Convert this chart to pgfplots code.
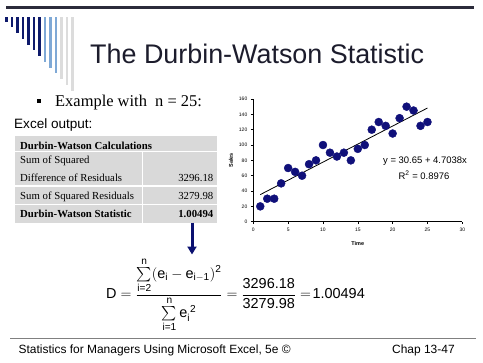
\documentclass[border=0pt]{standalone}
\usepackage{fontspec}
\setmainfont{Liberation Sans}
\newfontfamily\timesf{Liberation Serif}
\usepackage{amsmath}
\usepackage{pgfplots}
\pgfplotsset{compat=1.18}
\usetikzlibrary{arrows.meta}
\definecolor{navy}{HTML}{10107A}
\definecolor{topbar}{HTML}{2B2B3B}
\definecolor{barA}{HTML}{0E1A6B}
\definecolor{barB}{HTML}{7FA9D6}
\definecolor{barC}{HTML}{DCDCDC}
\definecolor{titlecol}{HTML}{1C1C2C}
\definecolor{tablebg}{HTML}{D9D9D9}
\definecolor{arrowcol}{HTML}{0A1070}
\definecolor{footline}{HTML}{808080}
\begin{document}
\begin{tikzpicture}[x=1bp,y=-1bp]
\fill[white] (0,0) rectangle (483,362);
% top bar
\fill[topbar] (6,6) rectangle (474,9.3);
% decorative vertical bars
\foreach \k/\c in {0/barA,1/barA,2/barA,3/barA,4/barA,5/barA,6/barA,7/barB,8/barB,9/barB,10/barC,11/barC,12/barC}{
  \fill[\c] ({6.7+5.5*\k-1.25},17.3) rectangle ({6.7+5.5*\k+1.25},{21.7+5.75*\k});
}
% title
\node[anchor=base west, inner sep=0, text=titlecol, font=\fontsize{27}{30}\selectfont] at (90,63.5) {The Durbin-Watson Statistic};
% bullet
\fill[black] (37.3,98.5) rectangle (41.3,102.5);
\node[anchor=base west, inner sep=0, font=\timesf\fontsize{16.5}{19}\selectfont] at (55,106) {Example with\ \ n = 25:};
% Excel output
\node[anchor=base west, inner sep=0, font=\fontsize{13.6}{16}\selectfont] at (14,128) {Excel output:};
% table
\fill[tablebg] (15,136) rectangle (217,222.5);
\draw[white, line width=1.2bp] (15,151.7) -- (217,151.7);
\draw[white, line width=1.2bp] (15,186) -- (217,186);
\draw[white, line width=1.2bp] (15,204.3) -- (217,204.3);
\draw[white, line width=1.2bp] (142.7,151.7) -- (142.7,222.5);
\begin{scope}[every node/.style={inner sep=0, font=\timesf\fontsize{10.8}{13}\selectfont}]
\node[anchor=base west] at (20,149.5) {\bfseries Durbin-Watson Calculations};
\node[anchor=base west] at (20,163.5) {Sum of Squared};
\node[anchor=base west] at (20,181.5) {Difference of Residuals};
\node[anchor=base east] at (213.5,181.5) {3296.18};
\node[anchor=base west] at (20,199.5) {Sum of Squared Residuals};
\node[anchor=base east] at (213.5,199.5) {3279.98};
\node[anchor=base west] at (20,217.5) {\bfseries Durbin-Watson Statistic};
\node[anchor=base east] at (213.5,217.5) {\bfseries 1.00494};
\end{scope}
% arrow
\draw[arrowcol, line width=3bp, -{Triangle[width=9bp,length=8bp]}] (192,222.5) -- (192,254.5);
% formula
\node[anchor=base west, inner sep=0, font=\fontsize{14.5}{17}\selectfont] at (106,298.5)
{$\text{D} = \dfrac{\textstyle\sum\limits_{\text{i=2}}^{\text{n}}(\text{e}_{\text{i}} - \text{e}_{\text{i}-\text{1}})^{\text{2}}}{\textstyle\sum\limits_{\text{i=1}}^{\text{n}}\text{e}_{\text{i}}^{\;\text{2}}} = \dfrac{\text{3296.18}}{\text{3279.98}} =\! \text{1.00494}$};
% footer
\draw[footline, line width=0.8bp] (10,338.3) -- (476,338.3);
\node[anchor=base west, inner sep=0, font=\fontsize{12}{14}\selectfont] at (18.5,353) {Statistics for Managers Using Microsoft Excel, 5e \textcopyright};
\node[anchor=base west, inner sep=0, font=\fontsize{12}{14}\selectfont] at (392,353) {Chap 13-47};
% chart
\begin{axis}[
  at={(253.3bp,-221.7bp)}, anchor=south west,
  scale only axis, width=209bp, height=122.7bp,
  xmin=0, xmax=30, ymin=0, ymax=160,
  axis lines*=left,
  xtick={0,5,...,30}, ytick={0,20,...,160},
  tick align=outside, major tick length=2.5bp,
  tick style={black, line width=0.5bp},
  axis line style={black, line width=0.8bp},
  tick label style={font=\fontsize{5}{5}\selectfont},
  /pgf/number format/assume math mode=true,
  xlabel={Time}, ylabel={Sales},
  label style={font=\fontsize{5.5}{6}\selectfont\bfseries},
  xlabel style={at={(axis description cs:0.5,-0.18)}, anchor=center},
  ylabel style={at={(axis description cs:-0.107,0.5)}, anchor=center},
  clip=false,
]
\addplot[only marks, mark=*, mark size=4bp, navy] coordinates {
(1,20) (2,30) (3,30) (4,50) (5,70) (6,65) (7,60) (8,75) (9,80) (10,100)
(11,90) (12,85) (13,90) (14,80) (15,95) (16,100) (17,120) (18,130) (19,125) (20,115)
(21,135) (22,150) (23,145) (24,125) (25,130)
};
\addplot[black, line width=0.8bp] coordinates {(1,35.35) (25,148.25)};
\node[font=\fontsize{9.5}{11}\selectfont] at (axis cs:24.65,79.5) {y = 30.65 + 4.7038x};
\node[font=\fontsize{9.5}{11}\selectfont] at (axis cs:24.5,60.9) {R\textsuperscript{2} = 0.8976};
\end{axis}
\end{tikzpicture}
\end{document}
